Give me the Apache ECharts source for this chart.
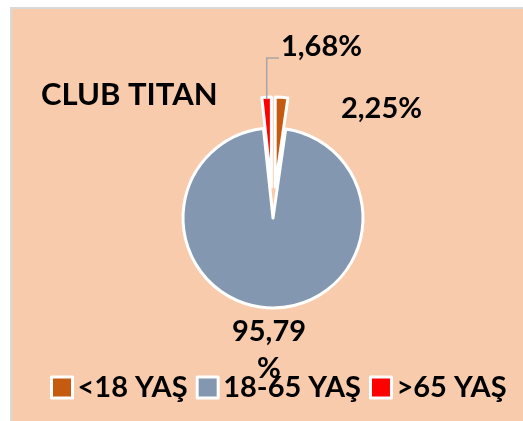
<!DOCTYPE html>
<html>
<head>
<meta charset="utf-8">
<script src="https://cdn.jsdelivr.net/npm/echarts@6/dist/echarts.min.js"></script>
<style>
    html, body { margin: 0; padding: 0; background: #fff; }
    #chart { width: 523px; height: 421px; }
</style>
</head>
<body>
<div id="chart"></div>
<script>
// Data
var chartTitle = 'CLUB TITAN';
var categories = ['<18 YAŞ', '18-65 YAŞ', '>65 YAŞ'];
var shares     = [2.25, 95.79, 1.68];
var colors     = ['#C55A11', '#8497B0', '#FF0000'];

var fontFamily = 'Lato, "Open Sans", sans-serif';
var pieCenter  = [273, 218];
var explode    = 31;

var chart = echarts.init(document.getElementById('chart'));

// visible slices, the two small ones pulled out
var sliceData = categories.map(function (name, i) {
    return { name: name, value: shares[i], selected: i !== 1 };
});

// same slices, invisible, only used to carry the data labels
var labelData = categories.map(function (name, i) {
    var item = { name: name, value: shares[i] };
    if (i !== 2) {
        item.labelLine = { show: false };
    }
    if (i === 1) {
        item.label = { width: 84, overflow: 'breakAll', align: 'center', lineHeight: 37 };
    }
    return item;
});

chart.setOption({
    color: colors,
    animation: false,
    graphic: [{
        type: 'rect',
        z: -10,
        shape: { x: 11, y: 8, width: 530, height: 430 },
        style: { fill: '#F8CBAD', stroke: '#D9D9D9', lineWidth: 2 }
    }],
    title: {
        text: chartTitle,
        left: 36,
        top: 74,
        textStyle: {
            fontFamily: fontFamily,
            fontWeight: 'bold',
            fontSize: 31,
            color: '#000'
        }
    },
    legend: {
        left: 45,
        top: 368,
        width: 475,
        itemWidth: 21,
        itemHeight: 21,
        itemGap: 8,
        icon: 'rect',
        itemStyle: { borderColor: '#fff', borderWidth: 3 },
        textStyle: {
            fontFamily: fontFamily,
            fontWeight: 'bold',
            fontSize: 29,
            color: '#000'
        }
    },
    series: [{
        type: 'pie',
        center: pieCenter,
        radius: 90,
        startAngle: 90,
        clockwise: true,
        selectedMode: 'multiple',
        selectedOffset: explode,
        itemStyle: { borderColor: '#fff', borderWidth: 3 },
        emphasis: { disabled: true },
        label: { show: false },
        labelLine: { show: false },
        data: sliceData
    }, {
        type: 'pie',
        center: pieCenter,
        radius: 90,
        startAngle: 90,
        clockwise: true,
        silent: true,
        z: 5,
        itemStyle: { color: 'rgba(0,0,0,0)', borderWidth: 0 },
        emphasis: { disabled: true },
        label: {
            show: true,
            position: 'outside',
            fontFamily: fontFamily,
            fontWeight: 'bold',
            fontSize: 29,
            color: '#000',
            formatter: function (p) {
                return p.value.toFixed(2).replace('.', ',') + '%';
            }
        },
        labelLine: {
            show: true,
            lineStyle: { color: '#A6A6A6', width: 1.5 }
        },
        labelLayout: function (params) {
            var i = params.dataIndex;
            if (i === 0) {
                return { x: 341, y: 109, align: 'left', verticalAlign: 'middle' };
            }
            if (i === 1) {
                return { x: 269, y: 350, align: 'center', verticalAlign: 'middle' };
            }
            // start the leader line at the tip of the pulled-out slice
            var p0 = params.labelLinePoints[0];
            var vx = p0[0] - pieCenter[0];
            var vy = p0[1] - pieCenter[1];
            var len = Math.sqrt(vx * vx + vy * vy);
            var sx = p0[0] + vx / len * (explode - 2);
            var sy = p0[1] + vy / len * (explode - 2);
            return {
                x: 281,
                y: 47,
                align: 'left',
                verticalAlign: 'middle',
                labelLinePoints: [[sx, sy], [sx, 58], [279, 58]]
            };
        },
        data: labelData
    }]
});

window.addEventListener('resize', function () {
    chart.resize();
});
</script>
</body>
</html>
